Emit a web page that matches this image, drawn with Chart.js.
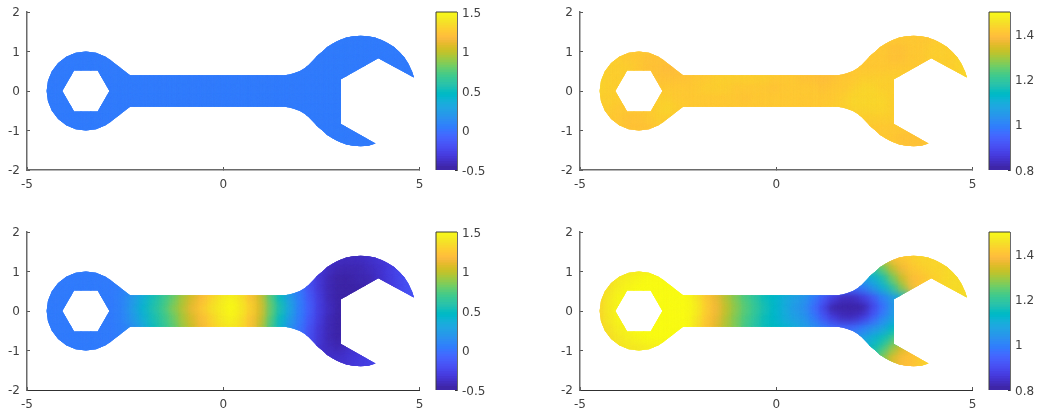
<!DOCTYPE html>
<html>
<head>
<meta charset="utf-8">
<title>Wrench fields</title>
<script src="https://cdn.jsdelivr.net/npm/chart.js@4"></script>
<style>
  html, body { margin: 0; padding: 0; background: #fff; }
  #page { position: relative; width: 1039px; height: 415px; overflow: hidden; }
  #page canvas { position: absolute; }
</style>
</head>
<body>
<div id="page"></div>
<script>
'use strict';

// ----------------- axis ticks -----------------
var xTicks = [-5, 0, 5];
var yTicks = [-2, -1, 0, 1, 2];
var barTicksLeft = [-0.5, 0, 0.5, 1, 1.5];
var barTicksRight = [0.8, 1, 1.2, 1.4];

// ----------------- colormap -----------------
var parula = [
  [.2422,.1504,.6603],[.2504,.1650,.7076],[.2578,.1818,.7511],[.2647,.1978,.7952],
  [.2706,.2147,.8364],[.2751,.2342,.8710],[.2783,.2559,.8991],[.2803,.2782,.9221],
  [.2813,.3006,.9414],[.2810,.3228,.9579],[.2795,.3447,.9717],[.2760,.3667,.9829],
  [.2699,.3892,.9906],[.2602,.4123,.9952],[.2440,.4358,.9988],[.2206,.4603,.9973],
  [.1963,.4847,.9892],[.1834,.5074,.9798],[.1786,.5289,.9682],[.1764,.5499,.9520],
  [.1687,.5703,.9359],[.1540,.5902,.9218],[.1460,.6091,.9079],[.1380,.6276,.8973],
  [.1248,.6459,.8883],[.1113,.6635,.8763],[.0952,.6798,.8598],[.0689,.6948,.8394],
  [.0297,.7082,.8163],[.0036,.7203,.7917],[.0067,.7312,.7660],[.0433,.7411,.7394],
  [.0964,.7500,.7120],[.1408,.7584,.6842],[.1717,.7670,.6554],[.1938,.7758,.6251],
  [.2161,.7843,.5923],[.2470,.7918,.5567],[.2906,.7973,.5188],[.3406,.8008,.4789],
  [.3909,.8029,.4354],[.4456,.8024,.3909],[.5044,.7993,.3480],[.5616,.7942,.3045],
  [.6174,.7876,.2612],[.6720,.7793,.2227],[.7242,.7698,.1910],[.7738,.7598,.1646],
  [.8203,.7498,.1535],[.8634,.7406,.1596],[.9035,.7330,.1774],[.9393,.7288,.2100],
  [.9728,.7298,.2394],[.9956,.7434,.2371],[.9970,.7659,.2199],[.9952,.7893,.2028],
  [.9892,.8136,.1885],[.9786,.8386,.1766],[.9676,.8639,.1643],[.9610,.8890,.1537],
  [.9597,.9135,.1423],[.9628,.9373,.1265],[.9691,.9606,.1064],[.9769,.9839,.0805]
];

// ----------------- wrench shape, data units -----------------
var wrenchOutline = [
  [-2.375,.4],[1.57,.4],[1.68,.415],[1.777,.443],[1.87,.475],[1.955,.506],[2.08,.58],[2.167,.65],[2.26,.747],[2.338,.828],
  [2.42,.915],[2.51,.99],[2.648,1.111],
  [2.8,1.212],[2.964,1.294],[3.138,1.352],[3.317,1.388],[3.5,1.4],[3.683,1.388],[3.862,1.352],
  [4.036,1.294],[4.2,1.212],[4.352,1.111],[4.49,.99],[4.611,.852],[4.712,.7],[4.816,.479],[4.858,.339],
  [3.95,.83],[3,.296],[3,-.835],[3.88,-1.33],[3.695,-1.386],[3.5,-1.4],[3.317,-1.388],[3.138,-1.352],
  [2.964,-1.294],[2.8,-1.212],[2.648,-1.111],[2.51,-.99],[2.42,-.915],[2.338,-.828],[2.26,-.747],[2.167,-.65],
  [2.08,-.58],[1.955,-.506],[1.87,-.475],[1.777,-.443],[1.68,-.415],
  [1.57,-.4],[-2.375,-.4],[-2.884,-.788],[-3,-.866],[-3.241,-.966],[-3.5,-1],[-3.759,-.966],[-4,-.866],
  [-4.207,-.707],[-4.366,-.5],[-4.466,-.259],[-4.5,0],[-4.466,.259],[-4.366,.5],[-4.207,.707],[-4,.866],
  [-3.759,.966],[-3.5,1],[-3.241,.966],[-3,.866],[-2.884,.788]
];
var wrenchHole = [[-4.1,0],[-3.8,.52],[-3.2,.52],[-2.9,0],[-3.2,-.52],[-3.8,-.52]];

// ----------------- field values sampled on a grid -----------------
var fieldX = [-4.75,-4.5,-4.25,-4,-3.75,-3.5,-3.25,-3,-2.75,-2.5,-2.25,-2,-1.75,-1.5,-1.25,-1,-.75,-.5,-.25,0,
  .25,.5,.75,1,1.25,1.5,1.75,2,2.25,2.5,2.75,3,3.25,3.5,3.75,4,4.25,4.5,4.75,5];
var fieldY = [1.5,1.25,1,.75,.5,.25,0,-.25,-.5,-.75,-1,-1.25,-1.5];

var fieldTopLeft = [
  [0,0,0,0,0,0,0,0,0,0,0,0,0,0,0,0,0,0,0,0,0,0,0,0,0,0,0,0,0,0,0,0,0,0,0,0,0,0,0,0],
  [0,0,0,0,0,0,0,0,0,0,0,0,0,0,0,0,0,0,0,0,0,0,0,0,0,0,0,0,0,0,0,0,0,0,0,0,0,0,0,0],
  [0,0,0,0,0,0,0,0,0,0,0,0,0,0,0,0,0,0,0,0,0,0,0,0,0,0,0,0,0,0,0,0,0,0,0,0,0,0,0,0],
  [0,0,0,0,0,0,0,0,0,0,0,0,0,0,0,0,0,0,0,0,0,0,0,0,0,0,0,0,0,0,0,0,0,0,0,0,0,0,0,0],
  [0,0,0,0,0,0,0,0,0,0,0,0,0,0,0,0,0,0,0,0,0,0,0,0,0,0,0,0,0,0,0,0,0,0,0,0,0,0,0,0],
  [0,0,0,0,0,0,0,0,0,0,0,0,0,0,0,0,0,0,0,0,0,0,0,0,0,0,0,0,0,0,0,0,0,0,0,0,0,0,0,0],
  [0,0,0,0,0,0,0,0,0,0,0,0,0,0,0,0,0,0,0,0,0,0,0,0,0,0,0,0,0,0,0,0,0,0,0,0,0,0,0,0],
  [0,0,0,0,0,0,0,0,0,0,0,0,0,0,0,0,0,0,0,0,0,0,0,0,0,0,0,0,0,0,0,0,0,0,0,0,0,0,0,0],
  [0,0,0,0,0,0,0,0,0,0,0,0,0,0,0,0,0,0,0,0,0,0,0,0,0,0,0,0,0,0,0,0,0,0,0,0,0,0,0,0],
  [0,0,0,0,0,0,0,0,0,0,0,0,0,0,0,0,0,0,0,0,0,0,0,0,0,0,0,0,0,0,0,0,0,0,0,0,0,0,0,0],
  [0,0,0,0,0,0,0,0,0,0,0,0,0,0,0,0,0,0,0,0,0,0,0,0,0,0,0,0,0,0,0,0,0,0,0,0,0,0,0,0],
  [0,0,0,0,0,0,0,0,0,0,0,0,0,0,0,0,0,0,0,0,0,0,0,0,0,0,0,0,0,0,0,0,0,0,0,0,0,0,0,0],
  [0,0,0,0,0,0,0,0,0,0,0,0,0,0,0,0,0,0,0,0,0,0,0,0,0,0,0,0,0,0,0,0,0,0,0,0,0,0,0,0]
];

var fieldTopRight = [
  [1.41,1.41,1.41,1.41,1.41,1.41,1.41,1.41,1.41,1.41,1.41,1.41,1.41,1.41,1.41,1.41,1.41,1.41,1.41,1.41,1.41,1.41,1.41,1.41,1.41,1.41,1.41,1.41,1.41,1.41,1.41,1.41,1.41,1.41,1.41,1.41,1.41,1.41,1.41,1.41],
  [1.41,1.41,1.41,1.41,1.41,1.41,1.41,1.41,1.41,1.41,1.41,1.41,1.41,1.41,1.41,1.41,1.41,1.41,1.41,1.41,1.41,1.41,1.41,1.41,1.41,1.41,1.41,1.41,1.41,1.405,1.405,1.405,1.405,1.41,1.41,1.41,1.415,1.42,1.42,1.42],
  [1.415,1.415,1.415,1.41,1.41,1.41,1.405,1.40,1.40,1.40,1.40,1.40,1.41,1.41,1.41,1.41,1.41,1.41,1.41,1.41,1.41,1.41,1.41,1.41,1.41,1.41,1.41,1.41,1.41,1.405,1.405,1.40,1.40,1.41,1.41,1.415,1.42,1.42,1.42,1.42],
  [1.42,1.42,1.415,1.415,1.41,1.41,1.40,1.395,1.395,1.395,1.40,1.40,1.41,1.41,1.41,1.41,1.41,1.415,1.415,1.41,1.41,1.41,1.41,1.41,1.405,1.405,1.405,1.405,1.41,1.41,1.405,1.40,1.40,1.41,1.41,1.415,1.42,1.42,1.425,1.425],
  [1.42,1.425,1.42,1.42,1.415,1.41,1.40,1.395,1.39,1.39,1.40,1.405,1.41,1.41,1.415,1.415,1.415,1.42,1.42,1.415,1.41,1.41,1.40,1.40,1.395,1.395,1.40,1.405,1.41,1.41,1.41,1.41,1.41,1.41,1.41,1.415,1.42,1.42,1.425,1.425],
  [1.425,1.425,1.42,1.42,1.415,1.41,1.405,1.40,1.395,1.395,1.40,1.41,1.41,1.415,1.42,1.42,1.415,1.415,1.415,1.41,1.41,1.405,1.40,1.395,1.39,1.395,1.405,1.41,1.415,1.42,1.42,1.42,1.42,1.42,1.42,1.42,1.42,1.42,1.425,1.425],
  [1.425,1.425,1.42,1.42,1.415,1.41,1.41,1.41,1.41,1.405,1.405,1.41,1.415,1.415,1.415,1.41,1.41,1.41,1.405,1.40,1.405,1.41,1.41,1.405,1.40,1.405,1.41,1.42,1.425,1.425,1.42,1.42,1.42,1.42,1.42,1.42,1.42,1.42,1.42,1.42],
  [1.42,1.42,1.42,1.415,1.41,1.41,1.41,1.415,1.42,1.41,1.41,1.41,1.41,1.41,1.41,1.405,1.40,1.405,1.41,1.41,1.41,1.41,1.41,1.41,1.41,1.41,1.415,1.425,1.43,1.43,1.425,1.42,1.42,1.42,1.42,1.42,1.42,1.42,1.42,1.42],
  [1.415,1.415,1.415,1.41,1.41,1.405,1.41,1.42,1.425,1.42,1.41,1.41,1.41,1.41,1.41,1.41,1.41,1.41,1.41,1.41,1.41,1.41,1.405,1.405,1.41,1.415,1.42,1.425,1.43,1.43,1.425,1.42,1.42,1.42,1.42,1.42,1.42,1.42,1.42,1.42],
  [1.41,1.41,1.41,1.405,1.40,1.40,1.41,1.42,1.42,1.41,1.41,1.41,1.41,1.41,1.41,1.41,1.41,1.41,1.41,1.41,1.41,1.41,1.41,1.41,1.41,1.41,1.41,1.41,1.415,1.42,1.42,1.42,1.415,1.41,1.41,1.41,1.41,1.41,1.41,1.41],
  [1.41,1.41,1.41,1.405,1.40,1.40,1.40,1.41,1.41,1.41,1.41,1.41,1.41,1.41,1.41,1.41,1.41,1.41,1.41,1.41,1.41,1.41,1.41,1.41,1.41,1.41,1.41,1.41,1.41,1.41,1.41,1.41,1.405,1.40,1.40,1.405,1.41,1.41,1.41,1.41],
  [1.41,1.41,1.41,1.41,1.41,1.41,1.41,1.41,1.41,1.41,1.41,1.41,1.41,1.41,1.41,1.41,1.41,1.41,1.41,1.41,1.41,1.41,1.41,1.41,1.41,1.41,1.41,1.41,1.41,1.41,1.41,1.41,1.40,1.40,1.40,1.405,1.41,1.41,1.41,1.41],
  [1.41,1.41,1.41,1.41,1.41,1.41,1.41,1.41,1.41,1.41,1.41,1.41,1.41,1.41,1.41,1.41,1.41,1.41,1.41,1.41,1.41,1.41,1.41,1.41,1.41,1.41,1.41,1.41,1.41,1.41,1.41,1.41,1.40,1.40,1.40,1.405,1.41,1.41,1.41,1.41]
];

var fieldBottomLeft = [
  [0,0,0,0,0,0,0,0,.03,.06,.15,.3,.47,.6,.74,.88,1.02,1.14,1.26,1.36,1.4,1.32,1.16,.95,.66,.4,.15,-.03,-.2,-.36,-.38,-.42,-.42,-.41,-.4,-.37,-.33,-.28,-.2,-.2],
  [0,0,0,0,0,0,0,0,.03,.06,.15,.3,.47,.6,.74,.88,1.02,1.14,1.26,1.36,1.4,1.32,1.16,.95,.66,.4,.15,-.03,-.2,-.36,-.38,-.42,-.42,-.41,-.4,-.37,-.33,-.28,-.2,-.2],
  [0,0,0,0,0,0,0,0,.03,.06,.15,.3,.47,.6,.74,.88,1.02,1.14,1.26,1.36,1.4,1.32,1.16,.95,.66,.4,.15,-.03,-.2,-.36,-.42,-.45,-.45,-.44,-.42,-.39,-.34,-.28,-.2,-.2],
  [0,0,0,0,0,0,0,0,.03,.06,.15,.3,.47,.6,.74,.88,1.02,1.14,1.26,1.36,1.4,1.32,1.16,.95,.66,.4,.15,-.05,-.22,-.36,-.44,-.48,-.48,-.46,-.44,-.4,-.34,-.28,-.2,-.2],
  [0,0,0,0,0,0,0,0,.03,.06,.15,.3,.47,.6,.74,.88,1.02,1.14,1.26,1.36,1.4,1.32,1.16,.95,.66,.4,.15,-.03,-.2,-.36,-.45,-.5,-.49,-.47,-.45,-.42,-.36,-.28,-.2,-.2],
  [0,0,0,0,0,0,0,0,.02,.07,.2,.35,.52,.65,.78,.92,1.06,1.18,1.3,1.4,1.44,1.36,1.2,1,.72,.45,.2,0,-.18,-.34,-.44,-.5,-.49,-.47,-.45,-.42,-.36,-.28,-.2,-.2],
  [0,0,0,0,0,0,0,0,.02,.08,.22,.38,.55,.68,.82,.95,1.1,1.22,1.35,1.43,1.47,1.4,1.25,1.05,.78,.5,.25,.03,-.15,-.32,-.43,-.5,-.49,-.47,-.45,-.42,-.35,-.28,-.2,-.2],
  [0,0,0,0,0,0,0,0,.02,.07,.2,.35,.52,.65,.78,.92,1.06,1.18,1.3,1.4,1.44,1.36,1.2,1,.72,.45,.2,0,-.18,-.34,-.44,-.5,-.49,-.47,-.45,-.42,-.36,-.28,-.2,-.2],
  [0,0,0,0,0,0,0,0,.03,.06,.15,.3,.47,.6,.74,.88,1.02,1.14,1.26,1.36,1.4,1.32,1.16,.95,.66,.4,.15,-.03,-.2,-.36,-.45,-.5,-.48,-.45,-.42,-.4,-.36,-.3,-.25,-.25],
  [0,0,0,0,0,0,0,0,.03,.06,.15,.3,.47,.6,.74,.88,1.02,1.14,1.26,1.36,1.4,1.32,1.16,.95,.66,.4,.15,-.05,-.22,-.36,-.44,-.47,-.42,-.38,-.36,-.34,-.3,-.28,-.25,-.25],
  [0,0,0,0,0,0,0,0,.03,.06,.15,.3,.47,.6,.74,.88,1.02,1.14,1.26,1.36,1.4,1.32,1.16,.95,.66,.4,.15,-.03,-.2,-.38,-.42,-.44,-.4,-.36,-.33,-.3,-.28,-.25,-.25,-.25],
  [0,0,0,0,0,0,0,0,.03,.06,.15,.3,.47,.6,.74,.88,1.02,1.14,1.26,1.36,1.4,1.32,1.16,.95,.66,.4,.15,-.03,-.2,-.38,-.4,-.4,-.37,-.33,-.3,-.27,-.25,-.25,-.25,-.25],
  [0,0,0,0,0,0,0,0,.03,.06,.15,.3,.47,.6,.74,.88,1.02,1.14,1.26,1.36,1.4,1.32,1.16,.95,.66,.4,.15,-.03,-.2,-.38,-.4,-.4,-.37,-.33,-.3,-.27,-.25,-.25,-.25,-.25]
];

var fieldBottomRight = [
  [1.43,1.43,1.44,1.45,1.46,1.46,1.47,1.47,1.48,1.48,1.47,1.45,1.4,1.35,1.3,1.26,1.21,1.18,1.15,1.13,1.11,1.09,1.06,1.02,.97,.93,.98,1.1,1.2,1.25,1.32,1.38,1.41,1.42,1.43,1.43,1.43,1.44,1.44,1.44],
  [1.43,1.43,1.44,1.45,1.46,1.46,1.47,1.47,1.48,1.48,1.47,1.45,1.4,1.35,1.3,1.26,1.21,1.18,1.15,1.13,1.11,1.09,1.06,1.02,.97,.93,.98,1.1,1.2,1.25,1.32,1.38,1.41,1.42,1.43,1.43,1.43,1.44,1.44,1.44],
  [1.43,1.43,1.44,1.45,1.46,1.46,1.47,1.47,1.48,1.49,1.48,1.45,1.4,1.35,1.3,1.26,1.21,1.18,1.15,1.13,1.11,1.09,1.06,1.02,.97,.93,.98,1.1,1.12,1.18,1.24,1.32,1.37,1.41,1.42,1.43,1.43,1.44,1.44,1.44],
  [1.42,1.43,1.44,1.46,1.47,1.48,1.49,1.5,1.5,1.5,1.49,1.45,1.4,1.35,1.3,1.26,1.21,1.18,1.15,1.13,1.11,1.09,1.06,1.02,.97,.93,1,1.03,1.06,1.1,1.16,1.25,1.33,1.38,1.4,1.42,1.43,1.44,1.44,1.44],
  [1.42,1.43,1.45,1.47,1.48,1.49,1.5,1.5,1.5,1.5,1.49,1.45,1.4,1.35,1.3,1.26,1.21,1.18,1.15,1.13,1.11,1.09,1.06,1.02,.98,.95,.94,.95,.98,1.03,1.1,1.18,1.28,1.38,1.42,1.43,1.43,1.44,1.44,1.44],
  [1.42,1.43,1.46,1.48,1.49,1.5,1.5,1.5,1.5,1.5,1.49,1.46,1.41,1.36,1.31,1.27,1.22,1.19,1.15,1.12,1.09,1.06,1.03,.98,.92,.86,.83,.83,.86,.92,.99,1.05,1.1,1.2,1.3,1.38,1.42,1.44,1.44,1.44],
  [1.42,1.43,1.46,1.48,1.5,1.5,1.5,1.5,1.5,1.5,1.49,1.47,1.42,1.37,1.32,1.28,1.23,1.2,1.16,1.12,1.09,1.05,1.02,.96,.88,.81,.8,.8,.81,.88,.96,1.04,1.08,1.08,1.08,1.08,1.08,1.08,1.08,1.08],
  [1.42,1.43,1.46,1.48,1.49,1.5,1.5,1.5,1.5,1.5,1.49,1.46,1.41,1.36,1.31,1.27,1.22,1.19,1.15,1.12,1.09,1.06,1.03,.98,.92,.86,.83,.83,.86,.93,1,1.06,1.1,1.1,1.1,1.1,1.1,1.1,1.1,1.1],
  [1.42,1.43,1.45,1.47,1.48,1.49,1.5,1.5,1.5,1.5,1.49,1.45,1.4,1.35,1.3,1.26,1.21,1.18,1.15,1.13,1.11,1.09,1.06,1.02,.98,.95,.94,.95,.98,1.02,1.06,1.12,1.15,1.15,1.15,1.15,1.15,1.15,1.15,1.15],
  [1.42,1.43,1.44,1.46,1.47,1.48,1.49,1.5,1.5,1.5,1.49,1.45,1.4,1.35,1.3,1.26,1.21,1.18,1.15,1.13,1.11,1.09,1.06,1.02,.97,.93,1,1.03,1.06,1.1,1.14,1.2,1.26,1.3,1.3,1.3,1.3,1.3,1.3,1.3],
  [1.43,1.43,1.44,1.45,1.46,1.46,1.47,1.47,1.48,1.49,1.48,1.45,1.4,1.35,1.3,1.26,1.21,1.18,1.15,1.13,1.11,1.09,1.06,1.02,.97,.93,1,1.08,1.1,1.14,1.2,1.28,1.34,1.38,1.4,1.42,1.42,1.42,1.42,1.42],
  [1.43,1.43,1.44,1.45,1.46,1.46,1.47,1.47,1.48,1.48,1.47,1.45,1.4,1.35,1.3,1.26,1.21,1.18,1.15,1.13,1.11,1.09,1.06,1.02,.97,.93,1,1.1,1.15,1.2,1.26,1.34,1.38,1.4,1.42,1.43,1.43,1.43,1.43,1.43],
  [1.43,1.43,1.44,1.45,1.46,1.46,1.47,1.47,1.48,1.48,1.47,1.45,1.4,1.35,1.3,1.26,1.21,1.18,1.15,1.13,1.11,1.09,1.06,1.02,.97,.93,1,1.1,1.15,1.2,1.26,1.34,1.38,1.4,1.42,1.43,1.43,1.43,1.43,1.43]
];

// ----------------- shared style -----------------
var textColor = '#404040';
var tickFont = { family: '"DejaVu Sans"', size: 12 };
var page = document.getElementById('page');

function makeCanvas(left, top, width, height) {
  var canvas = document.createElement('canvas');
  canvas.width = width;
  canvas.height = height;
  canvas.style.left = left + 'px';
  canvas.style.top = top + 'px';
  canvas.style.width = width + 'px';
  canvas.style.height = height + 'px';
  page.appendChild(canvas);
  return canvas;
}

function colorFor(value, min, max) {
  var i = Math.floor((value - min) / (max - min) * parula.length);
  i = Math.max(0, Math.min(parula.length - 1, i));
  return rgb(parula[i]);
}

function rgb(c) {
  return 'rgb(' + Math.round(c[0] * 255) + ',' + Math.round(c[1] * 255) + ',' + Math.round(c[2] * 255) + ')';
}

function tracePolygon(ctx, points, xScale, yScale) {
  points.forEach(function (p, i) {
    var px = xScale.getPixelForValue(p[0]);
    var py = yScale.getPixelForValue(p[1]);
    if (i === 0) {
      ctx.moveTo(px, py);
    } else {
      ctx.lineTo(px, py);
    }
  });
  ctx.closePath();
}

// keeps the grid cells inside the wrench; the top layer is softened into the sharp one below
var wrenchClip = {
  id: 'wrenchClip',
  beforeDatasetsDraw: function (chart) {
    var ctx = chart.ctx;
    ctx.save();
    ctx.beginPath();
    tracePolygon(ctx, wrenchOutline, chart.scales.x, chart.scales.y);
    tracePolygon(ctx, wrenchHole, chart.scales.x, chart.scales.y);
    ctx.clip('evenodd');
  },
  beforeDatasetDraw: function (chart, args) {
    chart.ctx.filter = args.index === 0 ? 'blur(4px)' : 'none';
  },
  afterDatasetsDraw: function (chart) {
    chart.ctx.filter = 'none';
    chart.ctx.restore();
  }
};

var barFrame = {
  id: 'barFrame',
  afterDraw: function (chart) {
    var a = chart.chartArea;
    var ctx = chart.ctx;
    ctx.save();
    ctx.strokeStyle = '#3a3a3a';
    ctx.lineWidth = 1;
    ctx.beginPath();
    ctx.moveTo(a.left, a.bottom);
    ctx.lineTo(a.left, a.top);
    ctx.lineTo(a.right, a.top);
    ctx.stroke();
    ctx.restore();
  }
};

function tickConfig(values) {
  return function (scale) {
    scale.ticks = values.map(function (v) {
      return { value: v };
    });
  };
}

// labels must not push the plot area around, its edges are fixed by the layout padding
function noScalePadding(scale) {
  scale.paddingTop = 0;
  scale.paddingBottom = 0;
  scale.paddingLeft = 0;
  scale.paddingRight = 0;
}

// ----------------- one wrench panel -----------------
function drawPanel(left, top, field, min, max, xAxisColor, xAxisWidth) {
  var points = [];
  var colors = [];
  fieldY.forEach(function (y, r) {
    fieldX.forEach(function (x, c) {
      points.push({ x: x, y: y });
      colors.push(colorFor(field[r][c], min, max));
    });
  });

  var cellStyle = {
    data: points,
    pointStyle: 'rect',
    pointBorderWidth: 0,
    pointBackgroundColor: colors,
    clip: false
  };

  new Chart(makeCanvas(left, top, 430, 195), {
    type: 'scatter',
    data: {
      datasets: [
        Object.assign({ pointRadius: 10 }, cellStyle),
        Object.assign({ pointRadius: 8 }, cellStyle)
      ]
    },
    plugins: [wrenchClip],
    options: {
      responsive: false,
      animation: false,
      events: [],
      layout: { padding: { top: 12, right: 10.5, left: 0, bottom: 0 } },
      plugins: { legend: { display: false }, tooltip: { enabled: false } },
      scales: {
        x: {
          type: 'linear',
          min: -5,
          max: 5,
          afterBuildTicks: tickConfig(xTicks),
          afterFit: function (scale) {
            noScalePadding(scale);
            scale.height = 25;
          },
          border: { color: xAxisColor, width: xAxisWidth },
          grid: { drawOnChartArea: false, tickLength: -3, tickColor: '#555', tickWidth: 1 },
          ticks: {
            color: textColor, font: tickFont, padding: 11, maxRotation: 0,
            autoSkip: false, callback: function (v) { return String(v); }
          }
        },
        y: {
          type: 'linear',
          min: -2,
          max: 2,
          afterBuildTicks: tickConfig(yTicks),
          afterFit: function (scale) {
            noScalePadding(scale);
            scale.width = 27;
          },
          border: { color: '#6a6a6a', width: 1.5 },
          grid: { drawOnChartArea: false, tickLength: -3, tickColor: '#555', tickWidth: 1 },
          ticks: {
            color: textColor, font: tickFont, padding: 10, labelOffset: 1,
            autoSkip: false, callback: function (v) { return String(v); }
          }
        }
      }
    }
  });
}

// ----------------- one colorbar -----------------
function drawColorbar(left, top, min, max, barTicks) {
  var step = (max - min) / parula.length;
  var datasets = parula.map(function (c, i) {
    return {
      // runs a little into the next colour so no seam shows
      data: [[min + i * step, min + (i + 1.5) * step]],
      backgroundColor: rgb(c),
      borderWidth: 0,
      barPercentage: 1,
      categoryPercentage: 1,
      grouped: false
    };
  });

  new Chart(makeCanvas(left, top, 60, 195), {
    type: 'bar',
    data: { labels: [''], datasets: datasets },
    plugins: [barFrame],
    options: {
      responsive: false,
      animation: false,
      events: [],
      layout: { padding: { top: 12, left: 6, bottom: 25, right: 0 } },
      plugins: { legend: { display: false }, tooltip: { enabled: false } },
      scales: {
        x: { display: false, stacked: false },
        y: {
          position: 'right',
          min: min,
          max: max,
          afterBuildTicks: tickConfig(barTicks),
          afterFit: function (scale) {
            noScalePadding(scale);
            scale.width = 33;
          },
          border: { color: '#6a6a6a', width: 1 },
          grid: { drawOnChartArea: false, tickLength: -2, tickColor: '#333', tickWidth: 1 },
          ticks: {
            color: textColor, font: tickFont, padding: 7, labelOffset: 1.5,
            autoSkip: false, callback: function (v) { return String(v); }
          }
        }
      }
    }
  });
}

drawPanel(0, 0, fieldTopLeft, -0.5, 1.5, '#6a6a6a', 1.5);
drawPanel(553, 0, fieldTopRight, 0.8, 1.5, '#6a6a6a', 1.5);
drawPanel(0, 220, fieldBottomLeft, -0.5, 1.5, '#303030', 1);
drawPanel(553, 220, fieldBottomRight, 0.8, 1.5, '#303030', 1);
drawColorbar(430, 0, -0.5, 1.5, barTicksLeft);
drawColorbar(983, 0, 0.8, 1.5, barTicksRight);
drawColorbar(430, 220, -0.5, 1.5, barTicksLeft);
drawColorbar(983, 220, 0.8, 1.5, barTicksRight);
</script>
</body>
</html>
